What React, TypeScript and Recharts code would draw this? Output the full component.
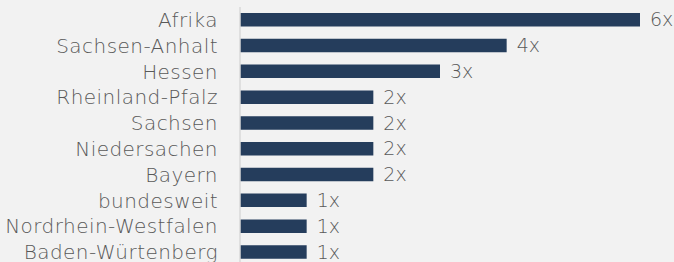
import { Bar, BarChart, XAxis, YAxis, LabelList } from "recharts"

const regions = [
  "Afrika",
  "Sachsen-Anhalt",
  "Hessen",
  "Rheinland-Pfalz",
  "Sachsen",
  "Niedersachen",
  "Bayern",
  "bundesweit",
  "Nordrhein-Westfalen",
  "Baden-Würtenberg",
]
const counts = [6, 4, 3, 2, 2, 2, 2, 1, 1, 1]

const data = regions.map((region, i) => ({ region, count: counts[i] }))

const baseText = {
  fill: "#595959",
  fontFamily: "'DejaVu Sans', sans-serif",
  fontWeight: 200,
}

export default function App() {
  return (
    <div
      style={{
        position: "fixed",
        top: 0,
        left: 0,
        width: 674,
        height: 262,
        overflow: "hidden",
        background: "#f2f2f2",
      }}
    >
      <BarChart
        width={674}
        height={270}
        data={data}
        layout="vertical"
        margin={{ top: 7, right: 34, bottom: 5, left: 0 }}
      >
        <XAxis type="number" domain={[0, 6]} hide />
        <YAxis
          type="category"
          dataKey="region"
          width={240}
          tickLine={false}
          tickSize={0}
          tickMargin={22}
          axisLine={{ stroke: "#d9d9d9", strokeWidth: 1.5 }}
          tick={{ ...baseText, fontSize: 20, letterSpacing: 0.45 }}
          interval={0}
        />
        <Bar dataKey="count" fill="#253d5c" barSize={13.5} isAnimationActive={false}>
          <LabelList
            dataKey="count"
            position="right"
            offset={10}
            formatter={(v: number) => `${v}x`}
            style={{ ...baseText, fontSize: 19 }}
          />
        </Bar>
      </BarChart>
    </div>
  )
}
